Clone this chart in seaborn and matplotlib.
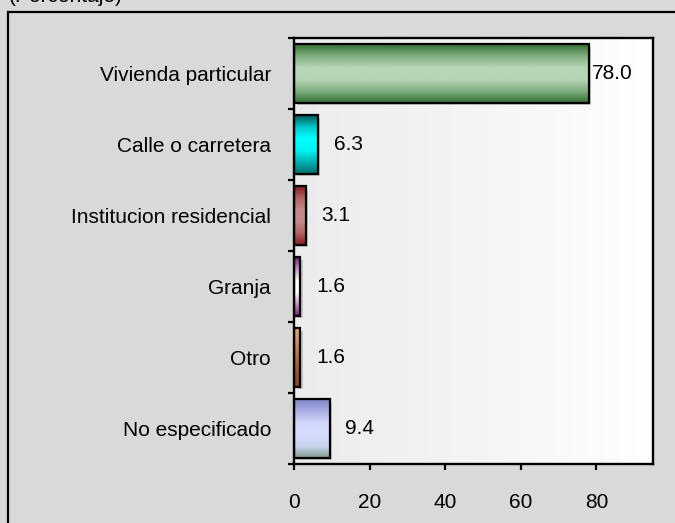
import numpy as np
import pandas as pd
import seaborn as sns
import matplotlib.pyplot as plt
from matplotlib.colors import LinearSegmentedColormap
from matplotlib.patches import Rectangle
from matplotlib.ticker import FixedLocator
import matplotlib.transforms as mtransforms

# Data #########################################################################
categories = ["Vivienda particular", "Calle o carretera", "Institucion residencial",
              "Granja", "Otro", "No especificado"]
values = [78.0, 6.3, 3.1, 1.6, 1.6, 9.4]
title = "(Porcentaje)"
xticks = [0, 20, 40, 60, 80]

# vertical gradient of each bar, from top to bottom
bar_gradients = [
    ["#336f33", "#7fae7f", "#b6d6b6", "#b6d6b6", "#7fae7f", "#336f33"],
    ["#005858", "#00c8c8", "#00ffff", "#00f4f4", "#00b0b0", "#006a6a"],
    ["#861c1c", "#b06262", "#c48888", "#c48888", "#b06262", "#861c1c"],
    ["#7a1c7a", "#c490c4", "#ffffff", "#ffffff", "#c490c4", "#7a1c7a"],
    ["#dfa676", "#d4955f", "#c07a45", "#ab6430", "#98521f", "#8a4616"],
    ["#7f86c8", "#a8aee2", "#d0d8fc", "#d4dcff", "#c8d4ee", "#7e9a8c"],
]

sns.set_theme(style="white")
plt.rcParams['font.family'] = ['Liberation Sans', 'DejaVu Sans']
plt.rcParams['text.color'] = 'black'
plt.rcParams['xtick.color'] = 'black'
plt.rcParams['ytick.color'] = 'black'
plt.rcParams['axes.labelcolor'] = 'black'

fig = plt.figure(figsize=(6.75, 5.23), dpi=100)
fig.patch.set_facecolor("#d9d9d9")
ax = fig.add_axes([294 / 675, 1 - 464 / 523, 359 / 675, 426 / 523])

df = pd.DataFrame({"categoria": categories, "valor": values})
sns.barplot(data=df, x="valor", y="categoria", orient="h", color="white",
            width=0.82, ax=ax, edgecolor="black", linewidth=1.6, zorder=3)

ax.set_xlim(0, 95)
ax.set_ylim(len(categories) - 0.5, -0.5)

# plot area background: light gray to white, left to right
bg = LinearSegmentedColormap.from_list("bg", ["#ececec", "#f4f4f4", "#ffffff"])
ax.imshow(np.linspace(0, 1, 256).reshape(1, -1), cmap=bg, extent=[0, 1, 0, 1],
          transform=ax.transAxes, aspect="auto", zorder=0)

shadow_tr = mtransforms.offset_copy(ax.transData, fig=fig, x=2.5, y=-2.5, units="dots")
for patch, cols in zip(ax.patches, bar_gradients):
    x0, y0 = patch.get_x(), patch.get_y()
    w, h = patch.get_width(), patch.get_height()
    ax.add_patch(Rectangle((x0, y0), w, h, transform=shadow_tr, facecolor="#9a9a9a",
                           edgecolor="none", alpha=0.5, zorder=1))
    cm = LinearSegmentedColormap.from_list("g", cols)
    ax.imshow(np.linspace(0, 1, 256).reshape(-1, 1), cmap=cm, origin="upper",
              extent=[x0, x0 + w, y0 + h, y0], aspect="auto", zorder=2)
    patch.set_facecolor("none")
    patch.set_zorder(3)

ax.set_xlim(0, 95)
ax.set_ylim(len(categories) - 0.5, -0.5)

# value labels
for i, v in enumerate(values):
    off = 2 if v > 70 else 11.5
    ax.annotate(f"{v:.1f}", xy=(v, i), xytext=(off, 0), textcoords="offset points",
                va="center", ha="left", fontsize=15, color="black", zorder=5)

# axes styling
ax.set_xlabel("")
ax.set_ylabel("")
ax.set_xticks(xticks)
ax.set_xticklabels([str(t) for t in xticks])
ax.tick_params(axis="x", direction="out", length=4, width=1.6, color="black",
               labelcolor="black", labelsize=15, pad=17, bottom=True)
ax.set_yticks(range(len(categories)))
ax.set_yticklabels(categories)
ax.yaxis.set_minor_locator(FixedLocator(np.arange(-0.5, len(categories), 1.0)))
ax.tick_params(axis="y", which="major", length=0, labelsize=15, labelcolor="black",
               pad=16.5, left=True)
ax.tick_params(axis="y", which="minor", length=4, width=1.6, color="black", left=True)
for s in ax.spines.values():
    s.set_visible(True)
    s.set_color("black")
    s.set_linewidth(1.7)

# outer frame and title (the title sits partly above the top edge, as in the original)
fig.patches.append(Rectangle((8 / 675, -0.2), 1.2, 1.2 - 12 / 523, transform=fig.transFigure,
                             facecolor="none", edgecolor="black", linewidth=1.6))
fig.text(9 / 675, 1 - 2 / 523, title, fontsize=15, ha="left", va="baseline", color="black")

plt.savefig("out.png", dpi=100, facecolor=fig.get_facecolor())
